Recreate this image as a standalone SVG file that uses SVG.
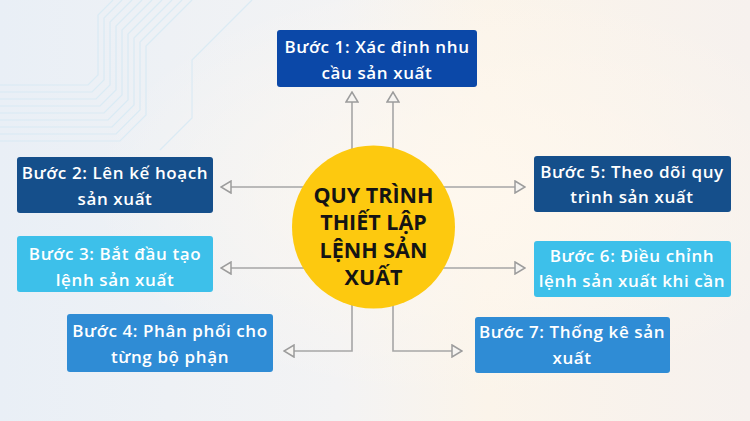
<svg xmlns="http://www.w3.org/2000/svg" width="750" height="421" viewBox="0 0 750 421">
  <defs>
    <linearGradient id="bg" x1="0" y1="0" x2="1" y2="0">
      <stop offset="0" stop-color="#e9eff6"/>
      <stop offset="0.45" stop-color="#f3f3f4"/>
      <stop offset="0.65" stop-color="#fbf4ea"/>
      <stop offset="1" stop-color="#f6f1ee"/>
    </linearGradient>
    <radialGradient id="glow" cx="0.62" cy="0.45" r="0.5">
      <stop offset="0" stop-color="#fff8ee" stop-opacity="0.9"/>
      <stop offset="1" stop-color="#fff8ee" stop-opacity="0"/>
    </radialGradient>
    <marker id="arr" viewBox="0 0 12 14" refX="11" refY="7" markerWidth="12" markerHeight="14" markerUnits="userSpaceOnUse" orient="auto">
      <path d="M1,1 L11,7 L1,13 Z" fill="#f6f4f1" stroke="#9c9c9c" stroke-width="1.5" stroke-linejoin="miter"/>
    </marker>
    <style>
      .box { stroke: none; }
      .t { font-family: "Open Sans", "Noto Sans", "DejaVu Sans", sans-serif; font-weight: 600; font-size: 17px; letter-spacing: 0.6px; fill: #ffffff; text-anchor: middle; }
      .c { font-family: "Open Sans", "Noto Sans", "DejaVu Sans", sans-serif; font-weight: 700; font-size: 21.5px; fill: #141414; text-anchor: middle; }
      .ln { fill: none; stroke: #a6a6a6; stroke-width: 1.6; marker-end: url(#arr); }
      .deco { fill: none; stroke: #d6eaf4; stroke-width: 1.2; }
    </style>
  </defs>

  <rect x="0" y="0" width="750" height="421" fill="url(#bg)"/>
  <rect x="0" y="0" width="750" height="421" fill="url(#glow)"/>
  <g opacity="0.8">
    <path class="deco" d="M0,85 H88 L98,75 V15 L113,0"/>
    <path class="deco" d="M0,92 H92 L104,80 V18 L122,0"/>
    <path class="deco" d="M0,99 H96 L110,85 V22 L132,0"/>
    <path class="deco" d="M0,106 H100 L116,90 V26 L142,0"/>
    <path class="deco" d="M0,113 H104 L122,95 V30 L152,0"/>
    <path class="deco" d="M0,120 H108 L128,100 V34 L162,0"/>
    <path class="deco" d="M0,127 H112 L134,105 V38 L172,0"/>
    <path class="deco" d="M0,134 H116 L140,110 V42 L182,0"/>
    <path class="deco" d="M0,141 H120 L146,115 V46 L192,0"/>
    <path class="deco" d="M160,150 L192,118 V60 L252,0"/>
  </g>

  <g id="connectors">
    <path class="ln" d="M352,227 V92"/>
    <path class="ln" d="M393,227 V92"/>
    <path class="ln" d="M373,187 H221"/>
    <path class="ln" d="M373,268 H221"/>
    <path class="ln" d="M373,187 H525"/>
    <path class="ln" d="M373,268 H525"/>
    <path class="ln" d="M352,227 V351 H284"/>
    <path class="ln" d="M393,227 V351 H462"/>
  </g>

  <g id="center">
    <circle cx="373.5" cy="227" r="81.5" fill="#fdc90f"/>
    <text class="c" x="373.5" y="203">QUY TRÌNH</text>
    <text class="c" x="373.5" y="230">THIẾT LẬP</text>
    <text class="c" x="373.5" y="258">LỆNH SẢN</text>
    <text class="c" x="373.5" y="285">XUẤT</text>
  </g>

  <g id="step1">
    <rect class="box" x="277" y="30" width="200" height="57" rx="3" fill="#0b48a8"/>
    <text class="t" x="377" y="53">Bước 1: Xác định nhu</text>
    <text class="t" x="377" y="79">cầu sản xuất</text>
  </g>
  <g id="step2">
    <rect class="box" x="17" y="157" width="196" height="56" rx="3" fill="#154f8b"/>
    <text class="t" x="115" y="179">Bước 2: Lên kế hoạch</text>
    <text class="t" x="115" y="205">sản xuất</text>
  </g>
  <g id="step3">
    <rect class="box" x="17" y="236" width="196" height="56" rx="3" fill="#3dc0ea"/>
    <text class="t" x="115" y="260">Bước 3: Bắt đầu tạo</text>
    <text class="t" x="115" y="286">lệnh sản xuất</text>
  </g>
  <g id="step4">
    <rect class="box" x="67" y="314" width="206" height="58" rx="3" fill="#2f8cd5"/>
    <text class="t" x="170" y="337">Bước 4: Phân phối cho</text>
    <text class="t" x="170" y="363">từng bộ phận</text>
  </g>
  <g id="step5">
    <rect class="box" x="534" y="156" width="197" height="56" rx="3" fill="#154f8b"/>
    <text class="t" x="632" y="178">Bước 5: Theo dõi quy</text>
    <text class="t" x="632" y="203">trình sản xuất</text>
  </g>
  <g id="step6">
    <rect class="box" x="534" y="241" width="197" height="56" rx="3" fill="#3dc0ea"/>
    <text class="t" x="632" y="262">Bước 6: Điều chỉnh</text>
    <text class="t" x="632" y="287">lệnh sản xuất khi cần</text>
  </g>
  <g id="step7">
    <rect class="box" x="475" y="317" width="195" height="56" rx="3" fill="#2f8cd5"/>
    <text class="t" x="572" y="338">Bước 7: Thống kê sản</text>
    <text class="t" x="572" y="364">xuất</text>
  </g>
</svg>
